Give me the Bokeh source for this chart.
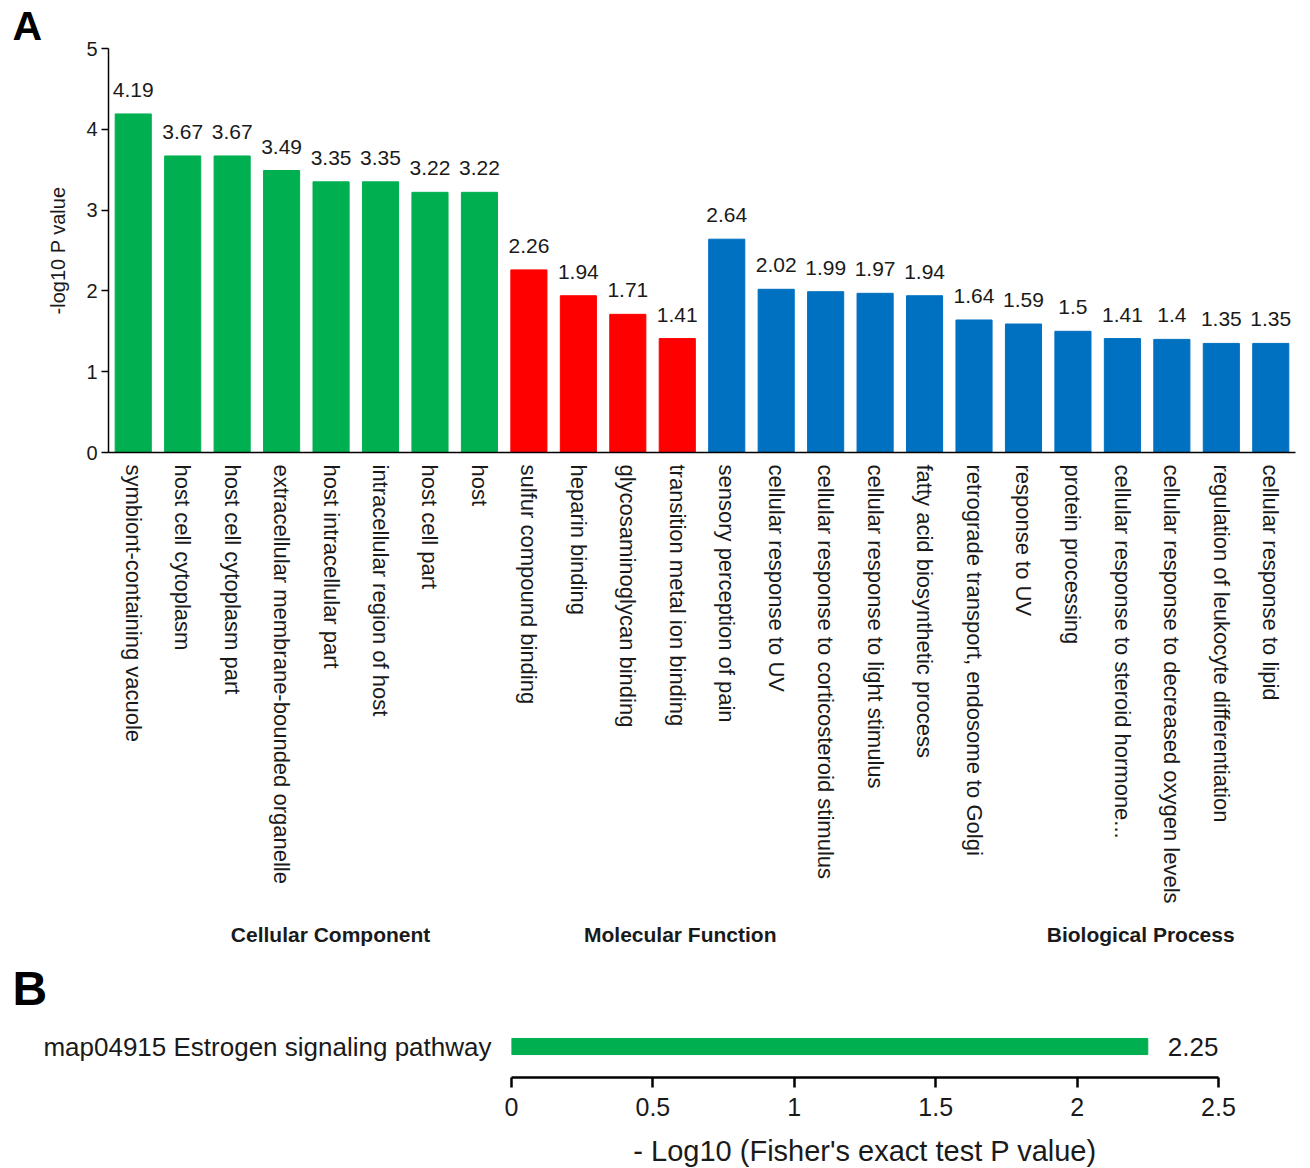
import numpy as np
from bokeh.plotting import figure
from bokeh.models import (Range1d, FactorRange, ColumnDataSource, Title,
                          FixedTicker, NumeralTickFormatter)
from bokeh.layouts import column
from bokeh.embed import file_html
from bokeh.resources import INLINE
from bokeh.core.properties import value

# ---------------- data ----------------
go_terms = [
    "symbiont-containing vacuole", "host cell cytoplasm", "host cell cytoplasm part",
    "extracellular membrane-bounded organelle", "host intracellular part",
    "intracellular region of host", "host cell part", "host",
    "sulfur compound binding", "heparin binding", "glycosaminoglycan binding",
    "transition metal ion binding",
    "sensory perception of pain", "cellular response to UV",
    "cellular response to corticosteroid stimulus", "cellular response to light stimulus",
    "fatty acid biosynthetic process", "retrograde transport, endosome to Golgi",
    "response to UV", "protein processing", "cellular response to steroid hormone...",
    "cellular response to decreased oxygen levels", "regulation of leukocyte differentiation",
    "cellular response to lipid",
]
go_values = [4.19, 3.67, 3.67, 3.49, 3.35, 3.35, 3.22, 3.22,
             2.26, 1.94, 1.71, 1.41,
             2.64, 2.02, 1.99, 1.97, 1.94, 1.64, 1.59, 1.5, 1.41, 1.4, 1.35, 1.35]
go_groups = (["Cellular Component"] * 8 + ["Molecular Function"] * 4
             + ["Biological Process"] * 12)
group_names = ["Cellular Component", "Molecular Function", "Biological Process"]
group_colors = {"Cellular Component": "#00B050",
                "Molecular Function": "#FF0000",
                "Biological Process": "#0070C0"}
y_ticks_a = [0, 1, 2, 3, 4, 5]

kegg_terms = ["map04915 Estrogen signaling pathway"]
kegg_values = [2.25]
x_ticks_b = [0, 0.5, 1, 1.5, 2, 2.5]

FONT = "Liberation Sans"
TXT = "#1a1a1a"

# layout (pixels) -------------------------------------------------------
W = 1310
A_LEFT, A_RIGHT = 108, 15
A_FRAME_W, A_FRAME_H = W - A_LEFT - A_RIGHT, 404
BAR_PX = A_FRAME_W / len(go_terms)
# strip coordinates in "bar units" so captions line up with panel A's bars
strip_x = (-A_LEFT / BAR_PX, len(go_terms) + A_RIGHT / BAR_PX)
caption_x = [4.49, 11.56, 20.87]
letter_x = -1.94

# ---------------- panel A ----------------
src = ColumnDataSource(dict(
    term=go_terms, val=go_values,
    lab=[f"{v:g}" for v in go_values],
    color=[group_colors[g] for g in go_groups],
))

pa = figure(frame_width=A_FRAME_W, frame_height=A_FRAME_H,
            x_range=FactorRange(factors=go_terms, range_padding=0),
            y_range=Range1d(0, 5), output_backend="svg", toolbar_location=None,
            min_border_left=A_LEFT, min_border_right=A_RIGHT, min_border_top=47,
            min_border_bottom=459)
pa.frame_align = False
pa.vbar(x="term", top="val", width=0.73, color="color", source=src)
pa.text(x="term", y="val", text="lab", source=src, text_align="center",
        text_baseline="alphabetic", y_offset=-24, text_font=value(FONT),
        text_font_size="21px", text_color=TXT)

pa.outline_line_color = None
pa.xgrid.visible = False
pa.ygrid.visible = False

ya = pa.yaxis[0]
ya.ticker = FixedTicker(ticks=y_ticks_a)
ya.axis_line_color = "black"
ya.axis_line_width = 1.5
ya.major_tick_line_color = "black"
ya.major_tick_line_width = 1.5
ya.major_tick_out = 7
ya.major_tick_in = 0
ya.minor_tick_line_color = None
ya.major_label_standoff = 4
ya.major_label_text_font = FONT
ya.major_label_text_font_size = "20px"
ya.major_label_text_color = TXT
ya.axis_label = "-log10 P value"
ya.axis_label_text_font = FONT
ya.axis_label_text_font_size = "20px"
ya.axis_label_text_font_style = "normal"
ya.axis_label_text_color = TXT
ya.axis_label_standoff = 14

xa = pa.xaxis[0]
xa.axis_line_color = "black"
xa.axis_line_width = 1.5
xa.major_tick_line_color = None
xa.minor_tick_line_color = None
xa.major_label_orientation = "vertical"
xa.major_label_standoff = 6
xa.major_label_text_font = FONT
xa.major_label_text_font_size = "22px"
xa.major_label_text_color = TXT

pa.add_layout(Title(text="A", align="left", offset=-96, standoff=0,
                    text_font=FONT, text_font_size="41px", text_font_style="bold",
                    text_color="black"), "above")

# ---------------- strip with group captions and letter B ----------------
pg = figure(width=W, height=104, x_range=Range1d(*strip_x), y_range=Range1d(0, 104),
            output_backend="svg", toolbar_location=None,
            x_axis_location=None, y_axis_location=None, min_border=0)
pg.frame_align = False
pg.outline_line_color = None
pg.xgrid.visible = False
pg.ygrid.visible = False
pg.text(x=caption_x, y=[81] * 3, text=group_names, text_font=value(FONT),
        text_font_size="21px", text_font_style="bold", text_color=TXT,
        text_align="center", text_baseline="middle")
pg.text(x=[letter_x], y=[27], text=["B"], text_font=value(FONT), text_font_size="48px",
        text_font_style="bold", text_color="black", text_align="left",
        text_baseline="middle")

# ---------------- panel B ----------------
srcb = ColumnDataSource(dict(term=kegg_terms, val=kegg_values,
                             lab=[f"{v:g}" for v in kegg_values]))
pb = figure(frame_width=707, frame_height=62,
            y_range=FactorRange(factors=kegg_terms, range_padding=0),
            x_range=Range1d(0, 2.5), output_backend="svg", toolbar_location=None,
            min_border_left=511, min_border_right=92, min_border_top=0,
            min_border_bottom=92)
pb.frame_align = False
pb.hbar(y="term", right="val", height=0.26, color="#00B050", source=srcb)
pb.text(x="val", y="term", text="lab", source=srcb, x_offset=20,
        text_align="left", text_baseline="middle", text_font=value(FONT),
        text_font_size="26px", text_color=TXT)
pb.outline_line_color = None
pb.xgrid.visible = False
pb.ygrid.visible = False

xb = pb.xaxis[0]
xb.ticker = FixedTicker(ticks=x_ticks_b)
xb.formatter = NumeralTickFormatter(format="0.[0]")
xb.axis_line_color = "black"
xb.axis_line_width = 2.5
xb.major_tick_line_color = "black"
xb.major_tick_line_width = 2.5
xb.major_tick_out = 10
xb.major_tick_in = 0
xb.minor_tick_line_color = None
xb.major_label_standoff = 10
xb.major_label_text_font = FONT
xb.major_label_text_font_size = "25px"
xb.major_label_text_color = TXT
xb.axis_label = "- Log10 (Fisher's exact test P value)"
xb.axis_label_text_font = FONT
xb.axis_label_text_font_size = "29px"
xb.axis_label_text_font_style = "normal"
xb.axis_label_text_color = TXT
xb.axis_label_standoff = 16

yb = pb.yaxis[0]
yb.axis_line_color = None
yb.major_tick_line_color = None
yb.minor_tick_line_color = None
yb.major_label_standoff = 14
yb.major_label_text_font = FONT
yb.major_label_text_font_size = "26px"
yb.major_label_text_color = TXT

layout = column(pa, pg, pb, spacing=0)
open("out.html", "w").write(file_html(layout, INLINE))
